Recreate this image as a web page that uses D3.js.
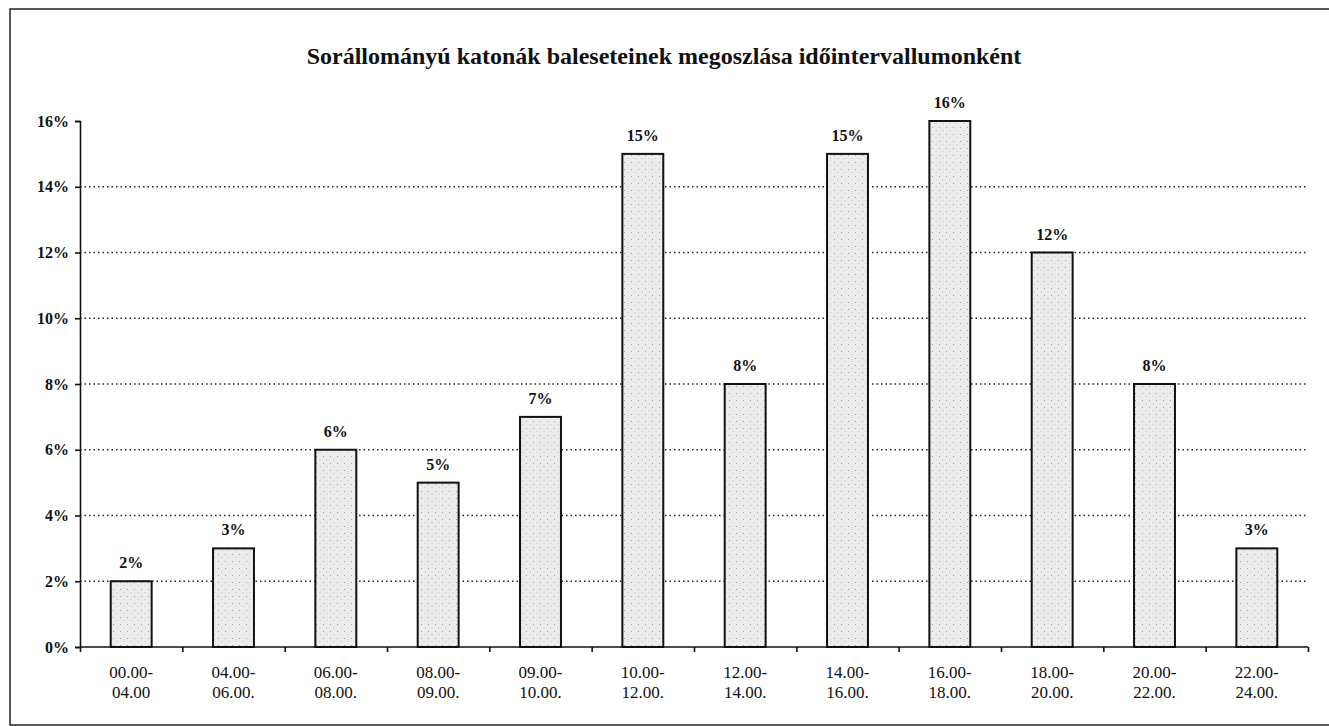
<!DOCTYPE html>
<html>
<head>
<meta charset="utf-8">
<script src="https://cdn.jsdelivr.net/npm/d3@7"></script>
<style>
  body { margin: 0; background: #fff; }
  svg text { font-family: "Liberation Serif", "Times New Roman", "DejaVu Serif", serif !important; fill: #111; }
</style>
</head>
<body>
<script>
let title = "Sorállományú katonák baleseteinek megoszlása időintervallumonként";
let intervals = [
  ["00.00-", "04.00"], ["04.00-", "06.00."], ["06.00-", "08.00."], ["08.00-", "09.00."],
  ["09.00-", "10.00."], ["10.00-", "12.00."], ["12.00-", "14.00."], ["14.00-", "16.00."],
  ["16.00-", "18.00."], ["18.00-", "20.00."], ["20.00-", "22.00."], ["22.00-", "24.00."]
];
let shares = [2, 3, 6, 5, 7, 15, 8, 15, 16, 12, 8, 3];
let yTicks = [0, 2, 4, 6, 8, 10, 12, 14, 16];

let width = 1329, height = 726;
let margin = {left: 80, right: 21, top: 121, bottom: 79};
let serif = "'Liberation Serif', 'Times New Roman', serif";

let svg = d3.select("body").append("svg")
    .attr("width", width)
    .attr("height", height);

// stippled fill for the bars
let defs = svg.append("defs");
let pat = defs.append("pattern")
    .attr("id", "stipple")
    .attr("width", 7)
    .attr("height", 7)
    .attr("patternUnits", "userSpaceOnUse");
pat.append("rect").attr("width", 7).attr("height", 7).attr("fill", "#ececec");
pat.append("circle").attr("cx", 1.5).attr("cy", 1.5).attr("r", 0.6).attr("fill", "#999");
pat.append("circle").attr("cx", 5).attr("cy", 4.5).attr("r", 0.5).attr("fill", "#b8b8b8");

// outer frame
svg.append("rect")
    .attr("x", 10).attr("y", 9)
    .attr("width", width).attr("height", 716)
    .attr("fill", "none")
    .attr("stroke", "#222")
    .attr("stroke-width", 1.5);

svg.append("text")
    .attr("x", 664)
    .attr("y", 64)
    .attr("text-anchor", "middle")
    .attr("font-family", serif)
    .attr("font-weight", "bold")
    .attr("font-size", 24)
    .text(title);

let x = d3.scaleBand()
    .domain(intervals.map((d, i) => i))
    .range([margin.left, width - margin.right])
    .paddingInner(0.6)
    .paddingOuter(0.3);

let y = d3.scaleLinear()
    .domain([0, 16])
    .range([height - margin.bottom, margin.top]);

// dotted gridlines
svg.append("g")
    .selectAll("line")
    .data(yTicks.filter(t => t > 0 && t < 16))
    .enter().append("line")
    .attr("x1", margin.left)
    .attr("x2", width - margin.right)
    .attr("y1", d => y(d))
    .attr("y2", d => y(d))
    .attr("stroke", "#222")
    .attr("stroke-width", 1.4)
    .attr("stroke-dasharray", "1.5,3");

// bars
svg.append("g")
    .selectAll("rect")
    .data(shares)
    .enter().append("rect")
    .attr("x", (d, i) => x(i))
    .attr("y", d => y(d))
    .attr("width", x.bandwidth())
    .attr("height", d => y(0) - y(d))
    .attr("fill", "url(#stipple)")
    .attr("stroke", "#111")
    .attr("stroke-width", 2);

// value labels
svg.append("g")
    .selectAll("text")
    .data(shares)
    .enter().append("text")
    .attr("x", (d, i) => x(i) + x.bandwidth() / 2)
    .attr("y", d => y(d) - 13)
    .attr("text-anchor", "middle")
    .attr("font-family", serif)
    .attr("font-weight", "bold")
    .attr("font-size", 16)
    .text(d => d + "%");

// y axis
let yAxis = svg.append("g")
    .attr("transform", "translate(" + margin.left + ",0)")
    .call(d3.axisLeft(y).tickValues(yTicks).tickSize(5).tickFormat(d => d + "%"));
yAxis.selectAll("path, line").attr("stroke", "#111").attr("stroke-width", 1.6);
yAxis.selectAll("text")
    .attr("font-family", serif)
    .attr("font-weight", "bold")
    .attr("font-size", 16)
    .attr("fill", "#111")
    .attr("dx", -3);

// x axis with ticks between categories
let xb = d3.scaleLinear().domain([0, intervals.length]).range([margin.left, width - margin.right]);
let xAxis = svg.append("g")
    .attr("transform", "translate(0," + y(0) + ")")
    .call(d3.axisBottom(xb).ticks(intervals.length).tickSize(5).tickFormat(""));
xAxis.selectAll("path, line").attr("stroke", "#111").attr("stroke-width", 1.6);
xAxis.select(".domain").attr("d", "M" + margin.left + ",0H" + (width - margin.right));

// category labels
let cats = svg.append("g")
    .selectAll("text")
    .data(intervals)
    .enter().append("text")
    .attr("x", (d, i) => x(i) + x.bandwidth() / 2)
    .attr("y", 678)
    .attr("text-anchor", "middle")
    .attr("font-family", serif)
    .attr("font-size", 17);
cats.append("tspan").text(d => d[0]);
cats.append("tspan")
    .attr("x", (d, i) => x(i) + x.bandwidth() / 2)
    .attr("dy", 20)
    .text(d => d[1]);
</script>
</body>
</html>
